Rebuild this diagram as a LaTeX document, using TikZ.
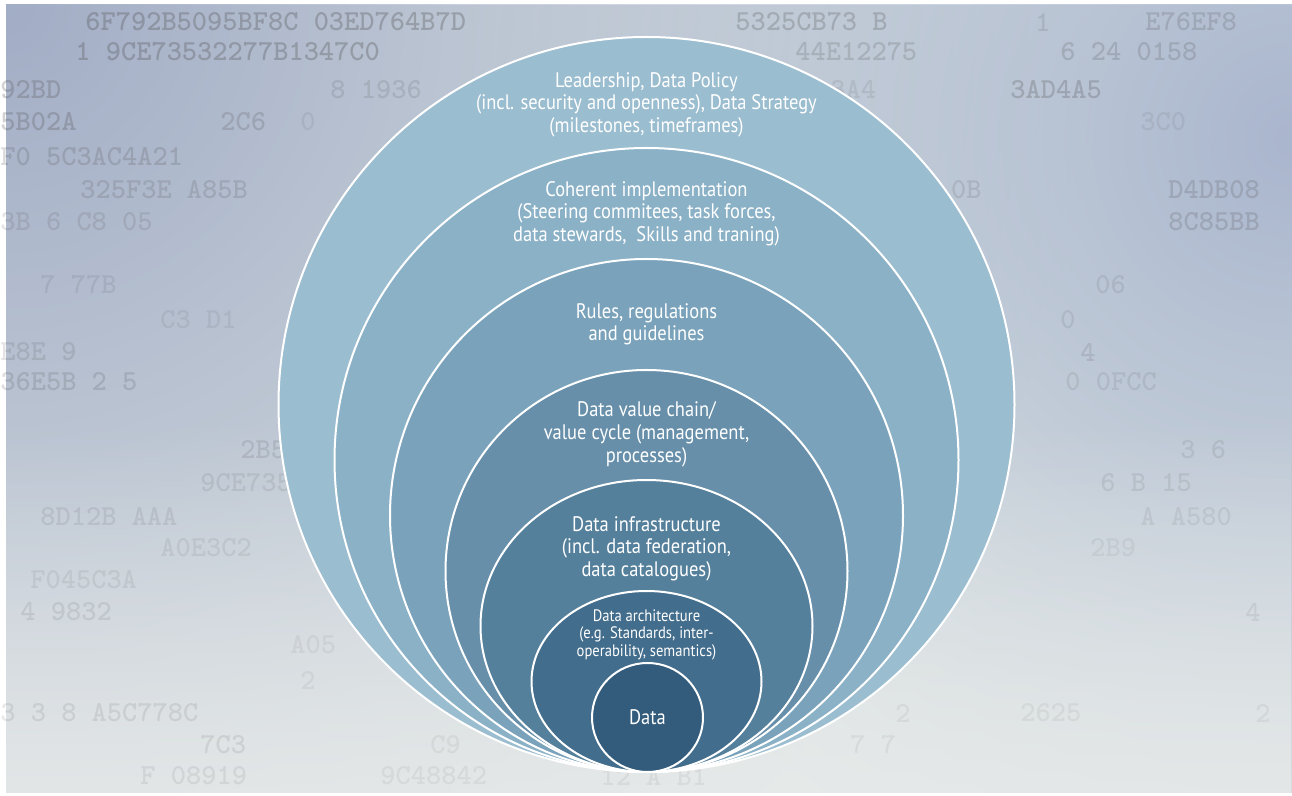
\documentclass[tikz,border=0pt]{standalone}
\usepackage{fontspec}
\setmainfont{PT Sans}[FakeStretch=0.88]
\usetikzlibrary{shapes.geometric,positioning,fadings}

% ring colours, light (outside) to dark (core)
\definecolor{ringA}{HTML}{9BBDD0}
\definecolor{ringB}{HTML}{8BB1C7}
\definecolor{ringC}{HTML}{7AA3BB}
\definecolor{ringD}{HTML}{678FAA}
\definecolor{ringE}{HTML}{55809C}
\definecolor{ringF}{HTML}{436D8C}
\definecolor{ringG}{HTML}{335C7C}
% backdrop
\definecolor{bgleft}{HTML}{A2ADC6}
\definecolor{bgmid}{HTML}{DEE6E4}
\definecolor{bgright}{HTML}{AAB6CE}
\definecolor{bglow}{HTML}{E8EAEA}

\tikzfading[name=fadeup, top color=transparent!100, bottom color=transparent!0]
\tikzfading[name=glow, inner color=transparent!0, outer color=transparent!100]

\tikzset{
  ring/.style={ellipse, draw=white, line width=1pt, inner sep=0pt, anchor=south},
  ringlabel/.style={text=white, align=center, inner sep=0pt,
    font=\fontsize{10.5}{11.3}\selectfont},
  smalllabel/.style={ringlabel, font=\fontsize{8.3}{8.8}\selectfont},
  hexdigits/.style={anchor=west, inner sep=0pt, text=black!70,
    font=\ttfamily\bfseries\fontsize{14.5}{14.5}\selectfont\addfontfeature{FakeStretch=1.3}}
}

\begin{document}
\begin{tikzpicture}[x=0.5pt,y=-0.5pt]
    \useasboundingbox (0,0) rectangle (1292,796);
    \fill[white] (0,0) rectangle (1292,796);

    % backdrop with faded hex code
    \begin{scope}
      \clip (6,5) rectangle (1292,793);
      \fill[bgmid] (6,5) rectangle (1292,793);
      \fill[bgleft, path fading=glow] (0,0) circle (1100);
      \fill[bgright, path fading=glow] (1292,140) circle (800);
      \fill[bglow, path fading=fadeup, fill opacity=.8] (6,420) rectangle (1292,793);
    \end{scope}
    \foreach \x/\y/\o/\s [count=\i] in {85/22/.3/6F792B5095BF8C 03ED764B7D, 735/22/.25/5325CB73 B,
        1035/22/.15/1, 1145/22/.2/E76EF8,
        75/52/.3/1 9CE73532277B1347C0, 795/52/.2/44E12275, 1060/52/.2/6 24 0158,
        0/90/.25/92BD, 330/90/.15/8 1936, 830/90/.12/3A4, 1010/90/.25/3AD4A5,
        0/122/.25/5B02A, 220/122/.2/2C6, 300/122/.1/0, 1140/122/.1/3C0,
        0/157/.2/F0 5C3AC4A21,
        80/190/.18/325F3E A85B, 905/190/.15/98 0B, 1168/190/.2/D4DB08,
        0/222/.15/3B 6 C8 05, 1168/222/.2/8C85BB,
        40/285/.12/7 77B, 1095/285/.12/06,
        160/320/.1/C3 D1, 1060/320/.12/0,
        0/352/.15/E8E 9, 1080/352/.15/4,
        0/382/.18/36E5B 2 5, 1065/382/.12/0 0FCC,
        240/450/.15/2B50, 1180/450/.12/3 6,
        200/483/.12/9CE735, 1100/483/.12/6 B 15,
        40/517/.12/8D12B AAA, 1140/517/.1/A A580,
        160/548/.1/A0E3C2, 1090/548/.08/2B9,
        30/580/.1/F045C3A,
        20/612/.12/4 9832, 1245/612/.1/4,
        290/645/.08/A05,
        300/680/.08/2,
        0/713/.12/3 3 8 A5C778C, 895/713/.08/2, 1020/713/.08/2625, 1255/713/.08/2,
        200/745/.12/7C3, 430/745/.08/C9, 850/745/.08/7 7,
        140/776/.1/F 08919, 380/776/.08/9C48842, 600/776/.08/12 A B1}
      \node[hexdigits, opacity=\o] (hex\i) at (\x,\y) {\s};

    % nested rings, all touching at the bottom
    \node[ring, fill=ringA, minimum width=368pt, minimum height=367.5pt] (r1) at (646.5,773) {};
    \node[ring, fill=ringB, minimum width=312pt, minimum height=312pt] (r2) at (646.5,773) {};
    \node[ring, fill=ringC, minimum width=256.5pt, minimum height=256.5pt] (r3) at (646.5,773) {};
    \node[ring, fill=ringD, minimum width=201pt, minimum height=201pt] (r4) at (646.5,773) {};
    \node[ring, fill=ringE, minimum width=166pt, minimum height=146pt] (r5) at (646.5,773) {};
    \node[ring, fill=ringF, minimum width=115pt, minimum height=90.5pt] (r6) at (646.5,773) {};
    \node[ring, fill=ringG, minimum width=55.5pt, minimum height=54.5pt, text=white,
      font=\fontsize{10.5}{11.3}\selectfont] (r7) at (647.5,773) {Data};

    % labels
    \node[ringlabel, below=18pt of r1.north] (lead) {Leadership, Data Policy\\(incl. security and openness), Data Strategy\\(milestones, timeframes)};
    \node[ringlabel, below=17pt of r2.north] (impl) {Coherent implementation\\(Steering commitees, task forces,\\data stewards,~ Skills and traning)};
    \node[ringlabel, below=22.5pt of r3.north] (rules) {Rules, regulations\\and guidelines};
    \node[ringlabel, below=16.3pt of r4.north] (chain) {Data value chain/\\value cycle (management,\\processes)};
    \node[ringlabel, below=18.5pt of r5.north] (infra) {Data infrastructure\\(incl. data federation,\\data catalogues)};
    \node[smalllabel, below=9.5pt of r6.north] (arch) {Data architecture\\(e.g. Standards, inter-\\operability, semantics)};
\end{tikzpicture}
\end{document}
